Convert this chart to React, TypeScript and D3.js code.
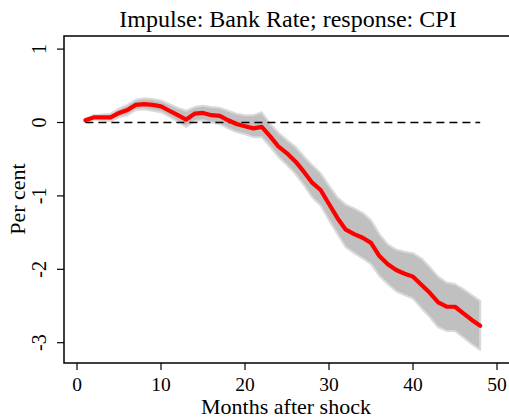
import React from "react";
import * as d3 from "d3";

const months = d3.range(1, 49);
const response = [0.03, 0.07, 0.07, 0.07, 0.13, 0.17, 0.24, 0.25, 0.24, 0.22, 0.16, 0.10, 0.04, 0.12, 0.13, 0.10, 0.09, 0.03, -0.02, -0.05, -0.08, -0.06, -0.19, -0.33, -0.42, -0.53, -0.67, -0.82, -0.92, -1.11, -1.30, -1.46, -1.52, -1.57, -1.64, -1.82, -1.93, -2.01, -2.06, -2.10, -2.21, -2.32, -2.45, -2.51, -2.51, -2.60, -2.69, -2.77];
const upper = [0.05, 0.10, 0.11, 0.12, 0.19, 0.24, 0.31, 0.33, 0.32, 0.30, 0.25, 0.20, 0.16, 0.21, 0.23, 0.21, 0.20, 0.16, 0.12, 0.10, 0.10, 0.14, -0.02, -0.14, -0.24, -0.33, -0.46, -0.58, -0.69, -0.86, -1.02, -1.12, -1.17, -1.23, -1.33, -1.52, -1.66, -1.73, -1.76, -1.78, -1.85, -1.97, -2.10, -2.18, -2.20, -2.27, -2.35, -2.43];
const lower = [0.01, 0.04, 0.03, 0.02, 0.07, 0.10, 0.17, 0.18, 0.16, 0.14, 0.08, 0.01, -0.06, 0.02, 0.03, 0.00, -0.02, -0.08, -0.13, -0.16, -0.20, -0.20, -0.33, -0.47, -0.58, -0.70, -0.85, -1.02, -1.13, -1.33, -1.52, -1.70, -1.78, -1.85, -1.93, -2.09, -2.20, -2.30, -2.35, -2.40, -2.53, -2.65, -2.79, -2.84, -2.84, -2.93, -3.02, -3.10];
const xTicks = [0, 10, 20, 30, 40, 50];
const yTicks = [1, 0, -1, -2, -3];

const title = "Impulse: Bank Rate; response: CPI";
const xLabel = "Months after shock";
const yLabel = "Per cent";

export default function App() {
  const W = 509, H = 418;
  const x = d3.scaleLinear().domain([0, 50]).range([77, 497]);
  const y = d3.scaleLinear().domain([0, -3]).range([122.5, 342.7]);
  const left = 64, top = 36, bottom = 363;
  const font = "'Liberation Serif', 'Times New Roman', serif";

  const area = d3.area<number>()
    .x((_, i) => x(months[i]))
    .y0((_, i) => y(lower[i]))
    .y1((_, i) => y(upper[i]))
    .curve(d3.curveLinear);
  const line = d3.line<number>()
    .x((_, i) => x(months[i]))
    .y((d) => y(d));

  return (
    <svg width={W} height={H} style={{ position: "absolute", left: 0, top: 0 }}>
      <rect x={0} y={0} width={W} height={H} fill="#fff" />
      <path d={area(response) ?? ""} fill="#c0c0c0" stroke="#dadada" strokeWidth={2} strokeLinejoin="round" />
      <line x1={x(months[0])} x2={x(months[months.length - 1])} y1={y(0)} y2={y(0)} stroke="#000" strokeWidth={1.6} strokeDasharray="8,5" />
      <path d={line(response) ?? ""} fill="none" stroke="#ff0000" strokeWidth={4.2} strokeLinejoin="round" strokeLinecap="round" />
      <rect x={left} y={top} width={W + 20 - left} height={bottom - top} fill="none" stroke="#000" strokeWidth={1.5} />
      {yTicks.map((t) => (
        <g key={t}>
          <line x1={left} x2={left - 7} y1={y(t)} y2={y(t)} stroke="#000" strokeWidth={1.2} />
          <text transform={`translate(46,${y(t)}) rotate(-90)`} textAnchor="middle" fontFamily={font} fontSize={20} fill="#000">
            {t}
          </text>
        </g>
      ))}
      {xTicks.map((t) => (
        <g key={t}>
          <line x1={x(t)} x2={x(t)} y1={bottom} y2={bottom + 7} stroke="#000" strokeWidth={1.2} />
          <text x={x(t)} y={391} textAnchor="middle" fontFamily={font} fontSize={19.5} fill="#000">
            {t}
          </text>
        </g>
      ))}
      <text x={286} y={414} textAnchor="middle" fontFamily={font} fontSize={22} fill="#000">{xLabel}</text>
      <text transform={`translate(25,199) rotate(-90)`} textAnchor="middle" fontFamily={font} fontSize={22} fill="#000">{yLabel}</text>
      <text x={288} y={27} textAnchor="middle" fontFamily={font} fontSize={24} fill="#000">{title}</text>
    </svg>
  );
}
